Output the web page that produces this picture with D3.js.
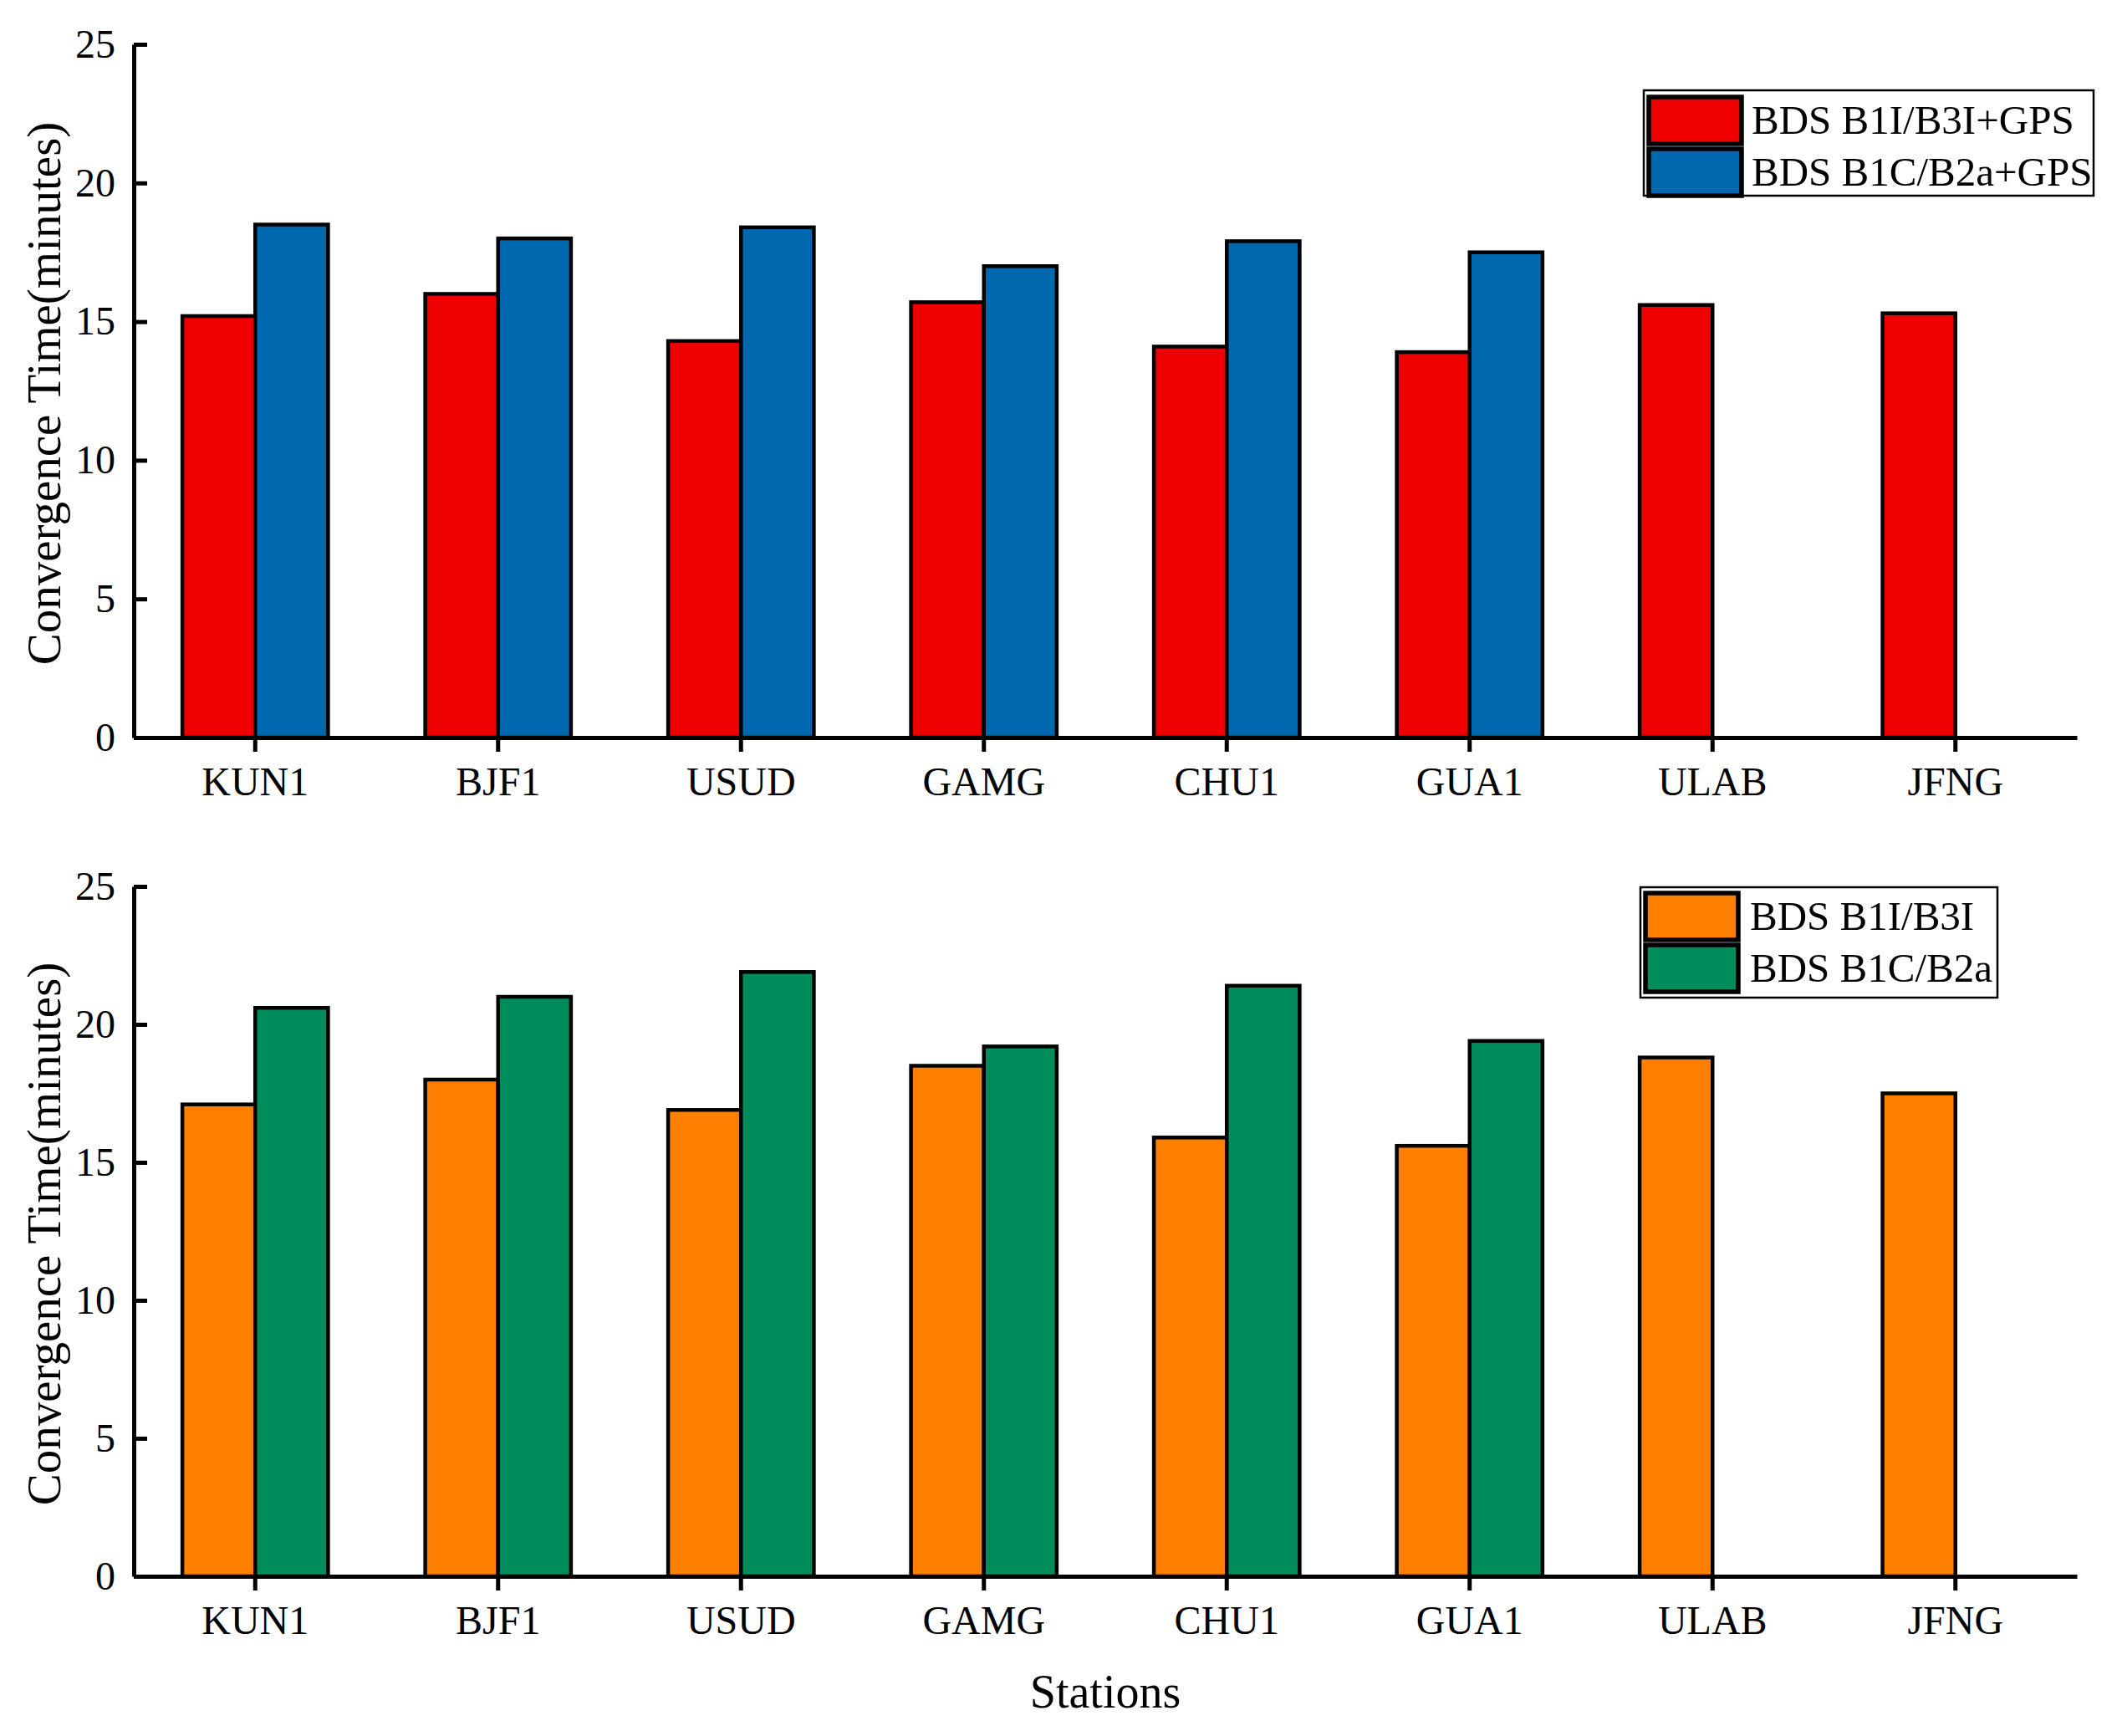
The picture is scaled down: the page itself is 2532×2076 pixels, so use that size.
<!DOCTYPE html>
<html>
<head>
<meta charset="utf-8">
<script src="https://cdn.jsdelivr.net/npm/d3@7"></script>
<style>
  html, body { margin: 0; padding: 0; background: #fff; }
  svg { display: block; }
  text { font-family: "Liberation Serif", "Times New Roman", serif; fill: #000; }
</style>
</head>
<body>
<svg id="chart" width="2532" height="2076"></svg>
<script>
// ---------- data ----------
const stations = ["KUN1", "BJF1", "USUD", "GAMG", "CHU1", "GUA1", "ULAB", "JFNG"];
const yTicks = [0, 5, 10, 15, 20, 25];

// top panel
const topSeriesNames = ["BDS B1I/B3I+GPS", "BDS B1C/B2a+GPS"];
const topB1IB3I_GPS = [15.2, 16.0, 14.3, 15.7, 14.1, 13.9, 15.6, 15.3];
const topB1CB2a_GPS = [18.5, 18.0, 18.4, 17.0, 17.9, 17.5, null, null];
const topColors = ["#EE0000", "#0068AE"];

// bottom panel
const botSeriesNames = ["BDS B1I/B3I", "BDS B1C/B2a"];
const botB1IB3I = [17.1, 18.0, 16.9, 18.5, 15.9, 15.6, 18.8, 17.5];
const botB1CB2a = [20.6, 21.0, 21.9, 19.2, 21.4, 19.4, null, null];
const botColors = ["#FF8000", "#008C5B"];

const yLabel = "Convergence Time(minutes)";
const xLabel = "Stations";

// ---------- layout ----------
const svg = d3.select("#chart");
const xLeft = 160, xRight = 2484;

const x = d3.scaleBand().domain(stations).range([xLeft, xRight]).paddingInner(0).paddingOuter(0);

function panel(cfg) {
  const y = d3.scaleLinear().domain([0, 25]).range([cfg.y0, cfg.y25]);
  const g = svg.append("g");
  const bw = x.bandwidth();
  const barW = bw * 0.3;

  cfg.series.forEach((vals, si) => {
    g.append("g").selectAll("rect")
      .data(stations.map((s, i) => ({ s, v: vals[i] })).filter(d => d.v != null))
      .join("rect")
      .attr("x", d => x(d.s) + bw * 0.2 + si * barW)
      .attr("y", d => y(d.v))
      .attr("width", barW)
      .attr("height", d => y(0) - y(d.v))
      .attr("fill", cfg.colors[si])
      .attr("stroke", "#000")
      .attr("stroke-width", 4.5);
  });

  // y axis
  const yAxis = d3.axisLeft(y).tickValues(yTicks).tickSizeInner(-16).tickSizeOuter(0).tickPadding(22);
  const ga = g.append("g").attr("transform", `translate(${xLeft},0)`).call(yAxis);
  ga.select(".domain").attr("stroke-width", 5).attr("stroke", "#000");
  ga.selectAll(".tick line").attr("stroke-width", 5).attr("stroke", "#000");
  ga.selectAll(".tick text").attr("font-size", 48).attr("font-family", null).attr("dy", "0.32em");

  // x axis
  const xAxis = d3.axisBottom(x).tickSizeInner(17).tickSizeOuter(0);
  const gx = g.append("g").attr("transform", `translate(0,${cfg.y0})`).call(xAxis);
  gx.select(".domain").attr("stroke-width", 5).attr("stroke", "#000");
  gx.selectAll(".tick line").attr("stroke-width", 5).attr("stroke", "#000");
  gx.selectAll(".tick text").attr("font-size", 48).attr("font-family", null).attr("dy", null).attr("y", 69);
  ga.attr("font-family", null); gx.attr("font-family", null);

  // y label
  g.append("text")
    .attr("transform", `translate(72,${(cfg.y0 + cfg.y25) / 2 + 3}) rotate(-90)`)
    .attr("text-anchor", "middle")
    .attr("font-size", 57)
    .text(yLabel);

  // legend
  const L = cfg.legend;
  g.append("rect")
    .attr("x", L.x0).attr("y", L.y0).attr("width", L.x1 - L.x0).attr("height", L.y1 - L.y0)
    .attr("fill", "#fff").attr("stroke", "#000").attr("stroke-width", 2.5);
  cfg.names.forEach((name, i) => {
    const top = L.rows[i];
    g.append("rect")
      .attr("x", L.sx0).attr("y", top)
      .attr("width", L.sx1 - L.sx0).attr("height", 56)
      .attr("fill", cfg.colors[i]).attr("stroke", "#000").attr("stroke-width", 5.5);
    g.append("text")
      .attr("x", L.tx).attr("y", top + 44)
      .attr("font-size", 49)
      .text(name);
  });
}

panel({
  y0: 882, y25: 53,
  series: [topB1IB3I_GPS, topB1CB2a_GPS],
  colors: topColors,
  names: topSeriesNames,
  legend: { x0: 1966, x1: 2504, y0: 108, y1: 234, sx0: 1972, sx1: 2083, rows: [116, 178], tx: 2095 }
});

panel({
  y0: 1885, y25: 1060,
  series: [botB1IB3I, botB1CB2a],
  colors: botColors,
  names: botSeriesNames,
  legend: { x0: 1962, x1: 2389, y0: 1061, y1: 1193, sx0: 1968, sx1: 2079, rows: [1068, 1130], tx: 2093 }
});

svg.append("text")
  .attr("x", (xLeft + xRight) / 2)
  .attr("y", 2042)
  .attr("text-anchor", "middle")
  .attr("font-size", 56)
  .text(xLabel);
</script>
</body>
</html>
